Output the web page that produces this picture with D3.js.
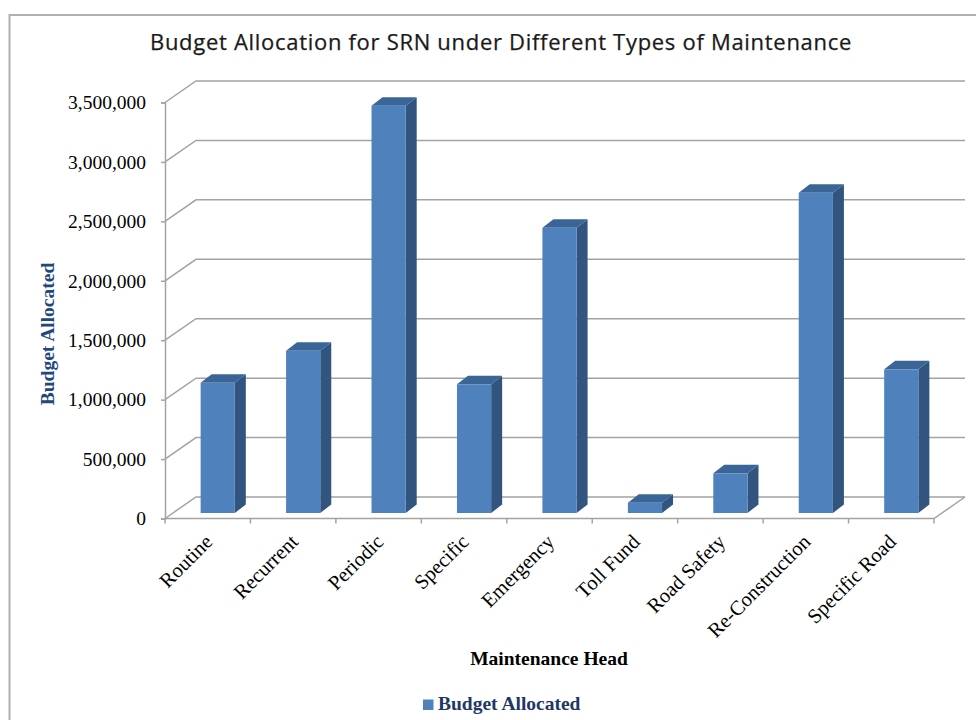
<!DOCTYPE html>
<html>
<head>
<meta charset="utf-8">
<script src="https://cdn.jsdelivr.net/npm/d3@7"></script>
<style>
  body { margin: 0; background: #fff; }
  svg { display: block; }
</style>
</head>
<body>
<div id="chart-area"></div>
<script>
// data
const categories = ["Routine", "Recurrent", "Periodic", "Specific", "Emergency",
  "Toll Fund", "Road Safety", "Re-Construction", "Specific Road"];
const budgetAllocated = [1095000, 1365000, 3427000, 1083000, 2400000,
  87000, 334000, 2695000, 1209000];
const yTicks = [0, 500000, 1000000, 1500000, 2000000, 2500000, 3000000, 3500000];

const WIDTH = 976, HEIGHT = 720;
const plot = { LEFT: 165, RIGHT: 934, TOP: 102.5, BOTTOM: 518.5 };
// depth of the 3D box (back wall offset)
const DX = 31, DY = -21.5;
// bar geometry
const barFrontDY = -5.5, barShift = 10, barDX = 11, barDY = -8.5;

const colors = { front: "#4f81bd", side: "#31557f", top: "#3b6596", grid: "#a3a3a3" };

const svg = d3.select("#chart-area").append("svg")
  .attr("width", WIDTH)
  .attr("height", HEIGHT);

// outer frame
svg.append("rect")
  .attr("x", 9.5).attr("y", 15)
  .attr("width", WIDTH + 20).attr("height", HEIGHT + 20)
  .attr("fill", "none")
  .attr("stroke", "#b0b0b0")
  .attr("stroke-width", 2);

// title
svg.append("text")
  .attr("x", 501).attr("y", 50)
  .attr("text-anchor", "middle")
  .attr("font-family", "'Open Sans', sans-serif")
  .attr("font-size", "22px")
  .attr("letter-spacing", "0.7px")
  .attr("fill", "#1a1a1a")
  .attr("stroke", "#1a1a1a")
  .attr("stroke-width", 0.25)
  .text("Budget Allocation for SRN under Different Types of Maintenance");

// scales
const x = d3.scaleBand().domain(categories).range([plot.LEFT, plot.RIGHT]).padding(0);
const y = d3.scaleLinear().domain([0, 3500000]).range([plot.BOTTOM, plot.TOP]);

const g = svg.append("g");

// back wall + side wall gridlines
yTicks.forEach(t => {
  const yy = y(t);
  g.append("polyline")
    .attr("points", `${plot.LEFT},${yy} ${plot.LEFT + DX},${yy + DY} ${plot.RIGHT + DX},${yy + DY}`)
    .attr("fill", "none")
    .attr("stroke", colors.grid)
    .attr("stroke-width", 1.5);
});

// floor front/right edges
g.append("polyline")
  .attr("points", `${plot.LEFT},${plot.BOTTOM} ${plot.RIGHT},${plot.BOTTOM} ${plot.RIGHT + DX},${plot.BOTTOM + DY}`)
  .attr("fill", "none")
  .attr("stroke", colors.grid)
  .attr("stroke-width", 1.5);

// y axis (front plane)
const yAxisCall = d3.axisLeft(y)
  .tickValues(yTicks)
  .tickSize(4)
  .tickPadding(15)
  .tickFormat(d3.format(","));
const yAxis = svg.append("g")
  .attr("transform", `translate(${plot.LEFT}, 0)`)
  .call(yAxisCall);
yAxis.select(".domain").attr("stroke", colors.grid).attr("stroke-width", 1.5);
yAxis.selectAll(".tick line").attr("stroke", colors.grid).attr("stroke-width", 1.5);
yAxis.selectAll(".tick text")
  .attr("font-family", "'Liberation Serif', 'Times New Roman', serif")
  .attr("font-size", "19.5px")
  .attr("fill", "#000");

// x axis ticks at category boundaries
const bounds = categories.map(c => x(c)).concat([plot.RIGHT]);
g.selectAll(".xtick")
  .data(bounds)
  .join("line")
  .attr("class", "xtick")
  .attr("x1", d => d).attr("x2", d => d)
  .attr("y1", plot.BOTTOM).attr("y2", plot.BOTTOM + 5)
  .attr("stroke", colors.grid)
  .attr("stroke-width", 1.5);

// x labels, rotated
svg.selectAll(".xlabel")
  .data(categories)
  .join("text")
  .attr("class", "xlabel")
  .attr("transform", d => `translate(${x(d) + x.bandwidth() / 2 + 6}, 543) rotate(-45)`)
  .attr("text-anchor", "end")
  .attr("font-family", "'Liberation Serif', 'Times New Roman', serif")
  .attr("font-size", "20.5px")
  .attr("fill", "#000")
  .text(d => d);

// 3D bars
const barW = x.bandwidth() * 0.4;
const bars = g.selectAll(".bar")
  .data(categories.map((c, i) => ({ cat: c, value: budgetAllocated[i] })))
  .join("g")
  .attr("class", "bar");

bars.each(function(d) {
  const x0 = x(d.cat) + x.bandwidth() / 2 + barShift - barW / 2;
  const x1 = x0 + barW;
  const bottom = y(0) + barFrontDY;
  const top = y(d.value) + barFrontDY;
  const sel = d3.select(this);
  sel.append("polygon")
    .attr("points", `${x1},${top} ${x1 + barDX},${top + barDY} ${x1 + barDX},${bottom + barDY} ${x1},${bottom}`)
    .attr("fill", colors.side);
  sel.append("polygon")
    .attr("points", `${x0},${top} ${x0 + barDX},${top + barDY} ${x1 + barDX},${top + barDY} ${x1},${top}`)
    .attr("fill", colors.top);
  sel.append("rect")
    .attr("x", x0).attr("y", top)
    .attr("width", barW).attr("height", bottom - top)
    .attr("fill", colors.front);
});

// axis titles
svg.append("text")
  .attr("transform", "translate(54, 334) rotate(-90)")
  .attr("text-anchor", "middle")
  .attr("font-family", "'Liberation Serif', 'Times New Roman', serif")
  .attr("font-weight", "bold")
  .attr("font-size", "19.5px")
  .attr("fill", "#1f497d")
  .text("Budget Allocated");

svg.append("text")
  .attr("x", 549).attr("y", 665)
  .attr("text-anchor", "middle")
  .attr("font-family", "'Liberation Serif', 'Times New Roman', serif")
  .attr("font-weight", "bold")
  .attr("font-size", "19.5px")
  .attr("fill", "#000")
  .text("Maintenance Head");

// legend
const legend = svg.append("g").attr("transform", "translate(423, 699.5)");
legend.append("rect")
  .attr("width", 10.5).attr("height", 10.5)
  .attr("fill", colors.front);
legend.append("text")
  .attr("x", 15).attr("y", 10)
  .attr("font-family", "'Liberation Serif', 'Times New Roman', serif")
  .attr("font-weight", "bold")
  .attr("font-size", "19.5px")
  .attr("fill", "#1f3864")
  .text("Budget Allocated");
</script>
</body>
</html>
